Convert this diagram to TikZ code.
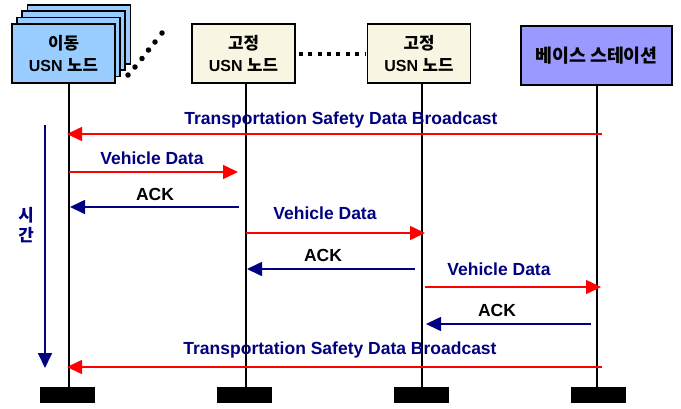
\documentclass[tikz,border=0pt]{standalone}
\usepackage{fontspec}
\setmainfont{Liberation Sans}
\newfontfamily\kr{Noto Sans CJK KR}[Scale=1.05]
\usetikzlibrary{arrows.meta}
\definecolor{navy}{RGB}{0,0,128}
\definecolor{mblue}{RGB}{153,204,255}
\definecolor{cream}{RGB}{248,246,226}
\definecolor{bstation}{RGB}{153,153,255}
\begin{document}
\begin{tikzpicture}[x=1pt,y=-1pt,
  box/.style={draw=black, line width=1.5pt, minimum width=103pt, minimum height=59pt, align=center, inner sep=0pt, font=\bfseries\fontsize{16}{22}\selectfont},
  life/.style={line width=1.8pt, black},
  bar/.style={fill=black, draw=none, minimum width=55pt, minimum height=16pt, inner sep=0pt},
  redmsg/.style={line width=1.6pt, red, -{Triangle[length=15pt,width=14pt]}},
  navymsg/.style={line width=1.6pt, navy, -{Triangle[length=15pt,width=14pt]}},
  lbl/.style={font=\bfseries\fontsize{17.5}{20}\selectfont, navy, inner sep=0pt},
  acklbl/.style={font=\bfseries\fontsize{17.5}{20}\selectfont, black, inner sep=0pt},
  dot/.style={circle, fill=black, inner sep=0pt, minimum size=5.5pt}
]
\useasboundingbox (0,0) rectangle (681,408);

% mobile node stack
\node[box, fill=mblue] (m3) at (79,34.5) {};
\node[box, fill=mblue] (m2) at (73.5,40.5) {};
\node[box, fill=mblue] (m1) at (68.5,47) {};
\node[box, fill=mblue] (mob) at (63.5,53.5) {{\kr 이동}\\USN {\kr 노드}};

% diagonal dots
\foreach \i/\px/\py in {1/128/75,2/135/67,3/142/58.5,4/148.5/50,5/155/42,6/162/33}
  \node[dot] (d\i) at (\px,\py) {};

\node[box, fill=cream] (f1) at (243.5,53.5) {{\kr 고정}\\USN {\kr 노드}};
\node[box, fill=cream] (f2) at (419,53.5) {{\kr 고정}\\USN {\kr 노드}};
\node[box, fill=bstation, minimum width=151pt, font=\bfseries\fontsize{17.5}{22}\selectfont] (bs) at (596.5,55.5) {\kr 베이스 스테이션};

\path (f1.east) ++(3,0) coordinate (dl) (f2.west) ++(-2,0) coordinate (dr);
\draw[line width=4pt, dash pattern=on 4pt off 5.4pt] (dl) -- (dr);

% lifelines top and bottom
\coordinate (t1) at (69,83);
\coordinate (t2) at (246,83);
\coordinate (t3) at (422,83);
\coordinate (t4) at (597,85);
\node[bar] (b1) at (67.5,395) {};
\node[bar] (b2) at (244.5,395) {};
\node[bar] (b3) at (421.5,395) {};
\node[bar] (b4) at (598,395) {};
\draw[life] (t1) -- (t1 |- b1.north);
\draw[life] (t2) -- (t2 |- b2.north);
\draw[life] (t3) -- (t3 |- b3.north);
\draw[life] (t4) -- (t4 |- b4.north);

% messages
\coordinate (a1s) at (602,134); \coordinate (a1e) at (67,134);
\draw[redmsg] (a1s) -- (a1e);
\node[lbl] (l1) at (341,120) {Transportation Safety Data Broadcast};

\coordinate (a2s) at (69,172); \coordinate (a2e) at (238,172);
\draw[redmsg] (a2s) -- (a2e);
\node[lbl] (l2) at (152,158) {Vehicle Data};

\coordinate (a3s) at (239,207); \coordinate (a3e) at (70,207);
\draw[navymsg] (a3s) -- (a3e);
\node[acklbl] (l3) at (155,194) {ACK};

\coordinate (a4s) at (246,233); \coordinate (a4e) at (425,233);
\draw[redmsg] (a4s) -- (a4e);
\node[lbl] (l4) at (325,213) {Vehicle Data};

\coordinate (a5s) at (415,269); \coordinate (a5e) at (247,269);
\draw[navymsg] (a5s) -- (a5e);
\node[acklbl] (l5) at (323,255) {ACK};

\coordinate (a6s) at (425,287); \coordinate (a6e) at (601,287);
\draw[redmsg] (a6s) -- (a6e);
\node[lbl] (l6) at (499,269) {Vehicle Data};

\coordinate (a7s) at (591,324); \coordinate (a7e) at (426,324);
\draw[navymsg] (a7s) -- (a7e);
\node[acklbl] (l7) at (497,310) {ACK};

\coordinate (a8s) at (602,367); \coordinate (a8e) at (67,367);
\draw[redmsg] (a8s) -- (a8e);
\node[lbl] (l8) at (340,350) {Transportation Safety Data Broadcast};

% time axis
\coordinate (ts) at (45,125); \coordinate (te) at (45,368);
\draw[line width=1.8pt, navy, -{Triangle[length=15pt,width=14pt]}] (ts) -- (te);
\node[navy, font=\bfseries\fontsize{16}{20}\selectfont, align=center, inner sep=0pt] (tl) at (26,225) {\kr 시\\\kr 간};
\end{tikzpicture}
\end{document}
